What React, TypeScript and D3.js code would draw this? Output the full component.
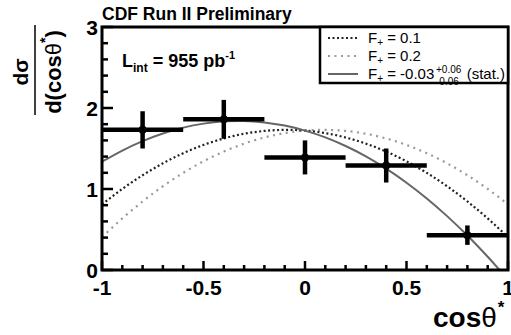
import React from "react";
import * as d3 from "d3";

// measured points (cos theta* bins)
const binCenters = [-0.8, -0.4, 0, 0.4, 0.8];
const binHalfWidths = [0.2, 0.2, 0.2, 0.2, 0.2];
const yValues = [1.73, 1.86, 1.39, 1.29, 0.43];
const yErrors = [0.23, 0.24, 0.21, 0.21, 0.12];

// curve samples
const curveX = [-1, -0.9, -0.8, -0.7, -0.6, -0.5, -0.4, -0.3, -0.2, -0.1, 0, 0.1, 0.2, 0.3, 0.4, 0.5, 0.6, 0.7, 0.8, 0.9, 1.0];
const f01 = [0.81, 1.001, 1.17, 1.317, 1.442, 1.544, 1.624, 1.682, 1.717, 1.73, 1.721, 1.69, 1.636, 1.56, 1.462, 1.342, 1.199, 1.034, 0.846, 0.637, 0.405];
const f02 = [0.405, 0.637, 0.846, 1.034, 1.199, 1.342, 1.462, 1.56, 1.636, 1.69, 1.721, 1.73, 1.717, 1.682, 1.624, 1.544, 1.442, 1.317, 1.17, 1.001, 0.81];
const fitX = [-1, -0.9, -0.8, -0.7, -0.6, -0.5, -0.4, -0.3, -0.2, -0.1, 0, 0.1, 0.2, 0.3, 0.4, 0.5, 0.6, 0.7, 0.8, 0.9, 0.95, 1.0];
const fitY = [1.337, 1.475, 1.592, 1.686, 1.758, 1.807, 1.835, 1.84, 1.822, 1.783, 1.721, 1.637, 1.531, 1.403, 1.251, 1.078, 0.883, 0.665, 0.425, 0.163, 0.024, -0.122];

const xTicks = [-1, -0.5, 0, 0.5, 1];
const xTickLabels = ["-1", "-0.5", "0", "0.5", "1"];
const yTicks = [0, 1, 2, 3];
const yTickLabels = ["0", "1", "2", "3"];

const FONT = "'Liberation Sans', Arial, Helvetica, sans-serif";

const App = () => {
  const width = 511;
  const height = 335;
  const left = 102;
  const right = 508;
  const top = 27;
  const bottom = 270;

  const x = d3.scaleLinear().domain([-1, 1]).range([left, right]);
  const y = d3.scaleLinear().domain([0, 3]).range([bottom, top]);

  const line = (xs: number[], ys: number[]) =>
    d3
      .line<number>()
      .x((d, i) => x(xs[i]))
      .y((d) => y(d))
      .curve(d3.curveNatural)(ys) || "";

  const xMinor = d3.range(-10, 11).map((i) => i / 10);
  const yMinor = d3.range(0, 16).map((i) => i / 5);

  return (
    <svg
      width={width}
      height={height}
      style={{ position: "absolute", left: 0, top: 0, display: "block", background: "#fff" }}
      fontFamily={FONT}
    >
      <defs>
        <clipPath id="frame">
          <rect x={left} y={top} width={right - left} height={bottom - top} />
        </clipPath>
      </defs>

      {/* title */}
      <text x={102} y={20} fontSize={17.5} fontWeight="bold">
        CDF Run II Preliminary
      </text>

      {/* curves */}
      <g clipPath="url(#frame)" fill="none">
        <path d={line(curveX, f02)} stroke="#999" strokeWidth={2.2} strokeDasharray="2,4.5" />
        <path d={line(curveX, f01)} stroke="#222" strokeWidth={2.2} strokeDasharray="2,2.5" />
        <path d={line(fitX, fitY)} stroke="#666" strokeWidth={2} />
      </g>

      {/* data points */}
      <g stroke="#000" strokeWidth={4.5}>
        {binCenters.map((c, i) => (
          <g key={i}>
            <line x1={x(c - binHalfWidths[i])} x2={x(c + binHalfWidths[i])} y1={y(yValues[i])} y2={y(yValues[i])} />
            <line x1={x(c)} x2={x(c)} y1={y(yValues[i] - yErrors[i])} y2={y(yValues[i] + yErrors[i])} />
            <circle cx={x(c)} cy={y(yValues[i])} r={4} fill="#000" stroke="none" />
          </g>
        ))}
      </g>

      {/* ticks */}
      <g stroke="#000" strokeWidth={2.5}>
        {xMinor.map((t, i) => (
          <line key={"xm" + i} x1={x(t)} x2={x(t)} y1={bottom} y2={bottom - (i % 5 === 0 ? 9 : 5)} />
        ))}
        {yMinor.map((t, i) => (
          <line key={"ym" + i} x1={left} x2={left + (i % 5 === 0 ? 11 : 6)} y1={y(t)} y2={y(t)} />
        ))}
      </g>

      {/* frame */}
      <rect x={left} y={top} width={right - left} height={bottom - top} fill="none" stroke="#000" strokeWidth={3} />

      {/* tick labels */}
      <g fontSize={21} fontWeight="bold">
        {xTicks.map((t, i) => (
          <text key={"xl" + i} x={x(t)} y={295} textAnchor="middle">
            {xTickLabels[i]}
          </text>
        ))}
        {yTicks.map((t, i) => (
          <text key={"yl" + i} x={98} y={y(t) + 7.5} textAnchor="end">
            {yTickLabels[i]}
          </text>
        ))}
      </g>

      {/* x title */}
      <text x={433} y={327} fontSize={28} fontWeight="bold">
        cos<tspan fontWeight="normal">θ</tspan>
        <tspan fontSize={17} dy={-14} dx={1}>*</tspan>
      </text>

      {/* y title */}
      <g fontWeight="bold">
        <text transform="translate(28,72) rotate(-90)" textAnchor="middle" fontSize={21}>
          dσ
        </text>
        <line x1={35} x2={35} y1={25} y2={115} stroke="#000" strokeWidth={1.5} />
        <text transform="translate(61,72) rotate(-90)" textAnchor="middle" fontSize={22}>
          d(cos<tspan fontWeight="normal">θ</tspan>
          <tspan fontSize={14} dy={-11}>*</tspan>
          <tspan dy={11}>)</tspan>
        </text>
      </g>

      {/* luminosity */}
      <text x={122} y={67} fontSize={18} fontWeight="bold">
        L<tspan fontSize={12} dy={5}>int</tspan>
        <tspan dy={-5}> = 955 pb</tspan>
        <tspan fontSize={11} dy={-8}>-1</tspan>
      </text>

      {/* legend */}
      <rect x={320} y={top} width={right - 320} height={56} fill="#fff" stroke="#000" strokeWidth={2.5} />
      <g fill="none" strokeWidth={2}>
        <line x1={328} x2={358} y1={38} y2={38} stroke="#222" strokeDasharray="2,2.5" />
        <line x1={328} x2={358} y1={56} y2={56} stroke="#999" strokeDasharray="2,4.5" />
        <line x1={328} x2={358} y1={74} y2={74} stroke="#666" />
      </g>
      <g fontSize={15}>
        <text x={368} y={43}>
          F<tspan fontSize={10} dy={3}>+</tspan>
          <tspan dy={-3}> = 0.1</tspan>
        </text>
        <text x={368} y={61}>
          F<tspan fontSize={10} dy={3}>+</tspan>
          <tspan dy={-3}> = 0.2</tspan>
        </text>
        <text x={368} y={79}>
          F<tspan fontSize={10} dy={3}>+</tspan>
          <tspan dy={-3}> = -0.03</tspan>
        </text>
        <text x={436} y={73} fontSize={10}>+0.06</text>
        <text x={436} y={85} fontSize={10}>-0.06</text>
        <text x={505} y={79} textAnchor="end">(stat.)</text>
      </g>
    </svg>
  );
};

export default App;
